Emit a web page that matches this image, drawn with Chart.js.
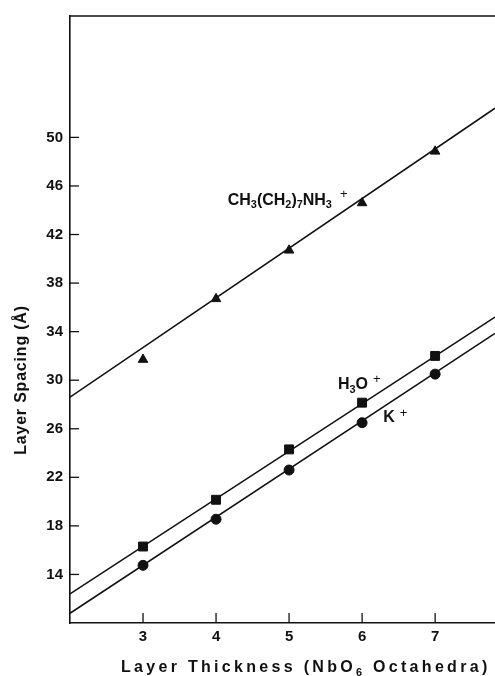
<!DOCTYPE html>
<html>
<head>
<meta charset="utf-8">
<script src="https://cdn.jsdelivr.net/npm/chart.js@4.4.1/dist/chart.umd.min.js"></script>
<style>
    html, body { margin: 0; padding: 0; background: #fff; }
    canvas { display: block; }
</style>
</head>
<body>
<canvas id="myChart" width="495" height="676"></canvas>
<script>
const xTicks = [3, 4, 5, 6, 7];
const yTicks = [14, 18, 22, 26, 30, 34, 38, 42, 46, 50];

const thickness = [3, 4, 5, 6, 7];
const amineSpacing = [31.7, 36.7, 40.7, 44.6, 48.85];
const hydroniumSpacing = [16.3, 20.15, 24.3, 28.15, 32.0];
const potassiumSpacing = [14.75, 18.55, 22.6, 26.5, 30.5];

// straight fits, read where they meet the frame
const fitX = [2, 7.82];
const amineFit = [28.6, 52.4];
const hydroniumFit = [12.4, 35.2];
const potassiumFit = [10.8, 33.86];

// text pieces: [text, isSubscript]
const amineLabel = [["CH", 0], ["3", 1], ["(CH", 0], ["2", 1], [")", 0], ["7", 1], ["NH", 0], ["3", 1]];
const hydroniumLabel = [["H", 0], ["3", 1], ["O", 0]];
const potassiumLabel = [["K", 0]];

const INK = "#111";
const FONT = '"Liberation Sans", Arial, sans-serif';

const pts = (xs, ys) => xs.map((x, i) => ({ x: x, y: ys[i] }));

const fitLine = (ys) => ({
    data: pts(fitX, ys),
    showLine: true,
    borderColor: INK,
    borderWidth: 1.6,
    pointRadius: 0,
    order: 2,
});
const marks = (ys, style, r) => ({
    data: pts(thickness, ys),
    showLine: false,
    pointStyle: style,
    pointRadius: r,
    pointBackgroundColor: INK,
    pointBorderColor: INK,
    pointBorderWidth: 1,
    order: 1,
});

const drawLabel = (ctx, parts, x, y, size) => {
    ctx.textBaseline = "middle";
    ctx.textAlign = "left";
    ctx.fillStyle = INK;
    let cx = x;
    parts.forEach(([t, sub]) => {
        ctx.font = "bold " + (sub ? size * 0.68 : size) + "px " + FONT;
        ctx.fillText(t, cx, sub ? y + size * 0.3 : y);
        cx += ctx.measureText(t).width;
    });
    return cx;
};

const decorations = {
    id: "decorations",
    afterDraw(chart) {
        const { ctx, chartArea, scales } = chart;
        const xs = scales.x, ys = scales.y;
        ctx.save();
        ctx.strokeStyle = INK;
        ctx.lineWidth = 1.6;
        // top frame line
        ctx.beginPath();
        ctx.moveTo(chartArea.left, chartArea.top);
        ctx.lineTo(chartArea.right, chartArea.top);
        ctx.stroke();
        // inward tick marks
        ctx.lineWidth = 1.3;
        yTicks.forEach((v) => {
            const py = ys.getPixelForValue(v);
            ctx.beginPath();
            ctx.moveTo(chartArea.left, py);
            ctx.lineTo(chartArea.left + 9, py);
            ctx.stroke();
        });
        xTicks.forEach((v) => {
            const px = xs.getPixelForValue(v);
            ctx.beginPath();
            ctx.moveTo(px, chartArea.bottom);
            ctx.lineTo(px, chartArea.bottom - 10);
            ctx.stroke();
        });

        // series labels
        const plus = (px, py) => {
            ctx.font = "13px " + FONT;
            ctx.fillText("+", px, py);
        };
        let end = drawLabel(ctx, amineLabel, xs.getPixelForValue(4.16), ys.getPixelForValue(44.8), 16);
        plus(end + 8, ys.getPixelForValue(45.3));
        end = drawLabel(ctx, hydroniumLabel, xs.getPixelForValue(5.67), ys.getPixelForValue(29.6), 16);
        plus(end + 5, ys.getPixelForValue(30.1));
        end = drawLabel(ctx, potassiumLabel, xs.getPixelForValue(6.29), ys.getPixelForValue(26.9), 16);
        plus(end + 5, ys.getPixelForValue(27.3));

        // axis titles
        ctx.fillStyle = INK;
        ctx.textAlign = "center";
        ctx.textBaseline = "middle";
        ctx.font = "bold 16px " + FONT;
        ctx.letterSpacing = "0.8px";
        ctx.save();
        ctx.translate(22, 380);
        ctx.rotate(-Math.PI / 2);
        ctx.fillText("Layer Spacing (Å)", 0, 0);
        ctx.restore();

        ctx.letterSpacing = "3.3px";
        const title = [["Layer Thickness (NbO", 0], ["6", 1], [" Octahedra)", 0]];
        drawLabel(ctx, title, 121, 668, 16);
        ctx.restore();
    },
};

const config = {
    type: "scatter",
    data: {
        datasets: [
            fitLine(amineFit),
            fitLine(hydroniumFit),
            fitLine(potassiumFit),
            marks(amineSpacing, "triangle", 5.5),
            marks(hydroniumSpacing, "rect", 6.3),
            marks(potassiumSpacing, "circle", 5),
        ],
    },
    options: {
        responsive: false,
        animation: false,
        layout: { autoPadding: false, padding: { top: 14, left: 0, right: 0, bottom: 0 } },
        plugins: { legend: { display: false }, tooltip: { enabled: false } },
        scales: {
            x: {
                type: "linear",
                min: 2,
                max: 7.82,
                afterBuildTicks: (s) => { s.ticks = xTicks.map((v) => ({ value: v })); },
                afterFit: (s) => { s.height = 53; },
                grid: { display: false, drawTicks: false },
                border: { display: true, color: INK, width: 1.6 },
                ticks: { color: INK, padding: 5, font: { family: FONT, size: 15, weight: "bold" } },
            },
            y: {
                type: "linear",
                min: 10,
                max: 60,
                afterBuildTicks: (s) => { s.ticks = yTicks.map((v) => ({ value: v })); },
                afterFit: (s) => { s.width = 70; },
                grid: { display: false, drawTicks: false },
                border: { display: true, color: INK, width: 1.6 },
                ticks: { color: INK, padding: 7, font: { family: FONT, size: 15, weight: "bold" } },
            },
        },
    },
    plugins: [decorations],
};

new Chart(document.getElementById("myChart"), config);
</script>
</body>
</html>
